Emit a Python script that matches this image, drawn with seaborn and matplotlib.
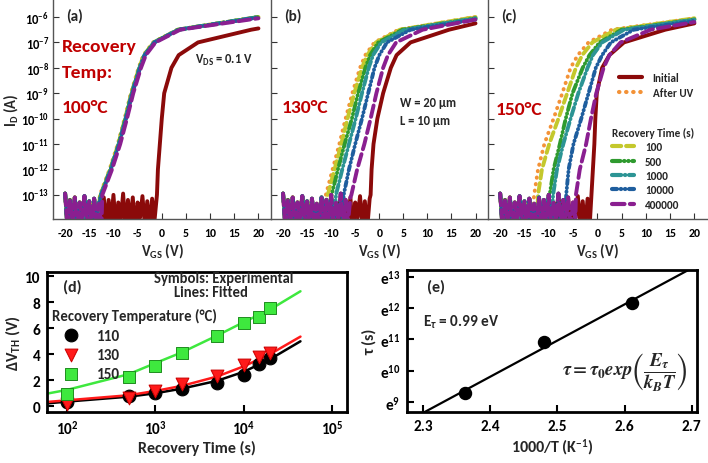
#!/usr/bin/env python3
"""Recovery of UV-shifted transfer curves and the recovery time constant."""

import matplotlib.pyplot as plt
import numpy as np
import seaborn as sns
from matplotlib.lines import Line2D
from matplotlib.ticker import NullLocator

sns.set_theme(style="white")
plt.rcParams["font.family"] = ["Carlito", "DejaVu Sans"]
plt.rcParams["font.weight"] = "bold"
plt.rcParams["axes.labelweight"] = "bold"
plt.rcParams["axes.unicode_minus"] = False
plt.rcParams["mathtext.fontset"] = "custom"
plt.rcParams["mathtext.rm"] = "Carlito:bold"
plt.rcParams["mathtext.bf"] = "Carlito:bold"
plt.rcParams["mathtext.it"] = "Carlito:italic:bold"

# ---- (a)-(c): transfer curves ------------------------------------------
CURVE_NAMES = ["Initial", "After UV", "100", "500", "1000", "10000", "400000"]
LOG_LEVELS = [-13.0, -12.0, -11.0, -10.0, -9.0, -8.0, -7.5, -7.0, -6.5]

VGS_100C = {
    "Initial": [-1.0, -0.8, -0.4, 0.0, 0.5, 2.0, 3.5, 7.5, 18.5],
    "After UV": [-12.8, -10.8, -9.1, -7.7, -6.4, -4.8, -3.8, -1.8, 3.2],
    "100": [-12.7, -10.7, -9.0, -7.6, -6.3, -4.7, -3.7, -1.7, 3.3],
    "500": [-12.6, -10.6, -8.9, -7.5, -6.2, -4.6, -3.6, -1.6, 3.4],
    "1000": [-12.6, -10.6, -8.9, -7.5, -6.2, -4.6, -3.6, -1.6, 3.4],
    "10000": [-12.5, -10.5, -8.8, -7.4, -6.1, -4.5, -3.5, -1.5, 3.5],
    "400000": [-12.3, -10.3, -8.6, -7.2, -5.9, -4.3, -3.3, -1.3, 3.8],
}
VGS_130C = {
    "Initial": [-1.8, -1.6, -1.2, -0.4, 0.8, 2.4, 3.6, 6.5, 14.5],
    "After UV": [-11.1, -9.7, -8.3, -7.0, -5.6, -4.0, -2.9, -1.0, 4.0],
    "100": [-10.7, -9.3, -7.9, -6.6, -5.2, -3.6, -2.5, -0.7, 4.3],
    "500": [-9.9, -8.6, -7.2, -5.7, -4.4, -2.9, -1.9, -0.2, 4.8],
    "1000": [-9.0, -7.7, -6.3, -4.9, -3.6, -2.2, -1.3, 0.4, 5.3],
    "10000": [-7.4, -6.3, -5.0, -3.6, -2.3, -1.0, 0.0, 1.6, 6.5],
    "400000": [-5.8, -4.6, -3.1, -1.8, -0.6, 0.8, 1.8, 3.5, 9.0],
}
VGS_150C = {
    "Initial": [-1.2, -0.9, -0.6, -0.4, -0.1, 1.0, 2.5, 5.5, 14.0],
    "After UV": [-13.0, -12.2, -10.9, -9.0, -7.2, -5.5, -4.0, -1.8, 3.0],
    "100": [-12.2, -11.4, -9.9, -8.0, -6.2, -4.4, -3.1, -1.0, 3.8],
    "500": [-9.8, -9.0, -7.7, -6.5, -5.1, -3.0, -1.6, 0.5, 5.0],
    "1000": [-9.1, -8.3, -7.0, -5.5, -3.9, -2.0, -0.9, 1.0, 5.5],
    "10000": [-6.4, -5.9, -4.9, -3.3, -1.8, -0.3, 1.0, 2.8, 7.5],
    "400000": [-4.4, -3.6, -2.3, -1.3, -0.2, 1.3, 2.5, 4.8, 11.0],
}
# log10(I_D) at V_GS = 20 V, same order as CURVE_NAMES
END_100C = [-6.45, -6.0, -6.0, -6.0, -6.0, -6.02, -6.05]
END_130C = [-6.25, -6.0, -6.0, -6.05, -6.05, -6.1, -6.1]
END_150C = [-6.25, -6.05, -6.05, -6.1, -6.1, -6.15, -6.2]

# off-current floor (log10 I_D), read every FLOOR_STEP volts from -20 V
FLOOR_STEP = 0.5
FLOOR_LOG_I = [-12.95, -14.3, -13.2, -14.1, -13.1, -14.4, -13.3, -13.9,
               -13.05, -14.2, -13.25, -14.3, -13.15, -14.0, -13.35, -14.4,
               -13.1, -14.2, -13.2, -14.1, -13.0, -14.3, -13.3, -14.0]

CURVE_COLORS = ["#8b0a0a", "#f39237", "#c4c82c", "#2f9a2f",
                "#2c9494", "#1f5e9e", "#8a1f90"]
CURVE_STYLES = ["-", (0, (0.1, 1.6)), (0, (2.2, 1.2)),
                (0, (2.0, 0.9, 0.1, 0.9, 0.1, 0.9)), (0, (2.2, 0.9, 0.1, 0.9)),
                (0, (1.2, 0.9, 0.1, 0.9, 0.1, 0.9)), (0, (3.0, 1.3))]

# ---- (d): threshold shift vs recovery time -------------------------------
EXP_TIME = [100, 500, 1000, 2000, 5000, 10000, 15000, 20000]
DVTH_110 = [0.3, 0.8, 0.98, 1.3, 1.75, 2.4, 3.2, 3.7]
DVTH_130 = [0.13, 0.65, 1.15, 1.68, 2.3, 3.15, 3.75, 4.05]
DVTH_150 = [0.95, 2.25, 3.1, 4.1, 5.35, 6.35, 6.85, 7.55]
FIT_TIME = [59, 100, 500, 1000, 2000, 5000, 10000, 20000, 44000]
FIT_110 = [0.2, 0.34, 0.72, 0.98, 1.34, 1.94, 2.63, 3.61, 4.98]
FIT_130 = [0.31, 0.44, 0.83, 1.16, 1.55, 2.27, 3.05, 4.0, 5.34]
FIT_150 = [0.95, 1.24, 2.45, 3.3, 4.13, 5.42, 6.45, 7.43, 8.83]

# ---- (e): Arrhenius plot --------------------------------------------------
INV_T = [2.363, 2.480, 2.611]
LN_TAU = [9.29, 10.90, 12.16]


def curve_trace(vgs_levels, end_log_i):
    """Join the noisy floor, the read-off points and the 20 V end point."""
    onset = vgs_levels[0]
    floor_v = np.arange(-20.0, onset, FLOOR_STEP)
    floor_i = np.resize(FLOOR_LOG_I, floor_v.size)
    vgs = np.concatenate([floor_v, vgs_levels, [20.0]])
    log_i = np.concatenate([floor_i, LOG_LEVELS, [end_log_i]])
    return vgs, log_i


def transfer_panel(ax, vgs_by_curve, ends, tag, first):
    for name, end, color, style in zip(CURVE_NAMES, ends, CURVE_COLORS, CURVE_STYLES):
        vgs, log_i = curve_trace(vgs_by_curve[name], end)
        sns.lineplot(x=vgs, y=log_i, ax=ax, color=color, linewidth=2.8,
                     sort=False, estimator=None, linestyle=style,
                     dash_capstyle="round", solid_joinstyle="round")
    ax.set_xlim(-22.5, 22.6)
    ax.set_ylim(-13.95, -5.33)
    ax.set_xticks(range(-20, 21, 5))
    ax.set_yticks(range(-13, -5))
    ax.set_yticklabels([f"$10^{{{k}}}$" for k in range(-13, -5)])
    ax.tick_params(axis="both", direction="in", length=4, width=0.8,
                   bottom=True, left=True, labelsize=8.5, pad=6,
                   colors="#333333", labelcolor="black")
    ax.tick_params(axis="y", labelleft=first, pad=3, labelsize=9)
    for side in ("top", "right"):
        ax.spines[side].set_visible(False)
    for side in ("left", "bottom"):
        ax.spines[side].set_color("#555555")
        ax.spines[side].set_linewidth(1.0)
    ax.set_xlabel(r"V$_{\mathbf{GS}}$ (V)", fontsize=10.5, labelpad=1)
    ax.set_ylabel(r"I$_{\mathbf{D}}$ (A)" if first else "", fontsize=10.5,
                  labelpad=1)
    ax.text(0.06, 0.93, tag, transform=ax.transAxes, fontsize=11,
            va="center", ha="left")


def main():
    fig = plt.figure(figsize=(7.08, 4.64), dpi=100)
    ax_a = fig.add_axes([0.0749, 0.5259, 0.3079, 0.4720])
    ax_b = fig.add_axes([0.3828, 0.5259, 0.3065, 0.4720])
    ax_c = fig.add_axes([0.6893, 0.5259, 0.3093, 0.4720])
    ax_d = fig.add_axes([0.0664, 0.1099, 0.4237, 0.3017])
    ax_e = fig.add_axes([0.5749, 0.1099, 0.4096, 0.3060])

    transfer_panel(ax_a, VGS_100C, END_100C, "(a)", True)
    transfer_panel(ax_b, VGS_130C, END_130C, "(b)", False)
    transfer_panel(ax_c, VGS_150C, END_150C, "(c)", False)

    red = "#c00000"
    for label, y in (("Recovery", 0.79), ("Temp:", 0.672), ("100°C", 0.511)):
        ax_a.text(0.041, y, label, transform=ax_a.transAxes, color=red,
                  fontsize=14, va="center")
    ax_b.text(0.05, 0.511, "130°C", transform=ax_b.transAxes, color=red,
              fontsize=14, va="center")
    ax_c.text(0.037, 0.502, "150°C", transform=ax_c.transAxes, color=red,
              fontsize=14, va="center")
    ax_a.text(0.651, 0.73, r"V$_{\mathbf{DS}}$ = 0.1 V", transform=ax_a.transAxes,
              fontsize=9, va="center")
    ax_b.text(0.594, 0.534, "W = 20 µm", transform=ax_b.transAxes,
              fontsize=9, va="center")
    ax_b.text(0.594, 0.452, "L = 10 µm", transform=ax_b.transAxes,
              fontsize=9, va="center")

    handles = [Line2D([], [], color=c, linewidth=3, linestyle=s,
                      dash_capstyle="round")
               for c, s in zip(CURVE_COLORS, CURVE_STYLES)]
    leg1 = ax_c.legend(handles[:2], CURVE_NAMES[:2], loc="upper left",
                       bbox_to_anchor=(0.6, 0.67), frameon=False, fontsize=8,
                       handlelength=2.0, handletextpad=1.0, labelspacing=0.3,
                       borderaxespad=0, borderpad=0)
    ax_c.add_artist(leg1)
    ax_c.legend(handles[2:], CURVE_NAMES[2:], loc="upper left",
                bbox_to_anchor=(0.565, 0.42), frameon=False, fontsize=8,
                title="Recovery Time (s)",
                title_fontproperties={"weight": "bold", "size": 8},
                alignment="left", handlelength=2.0, handletextpad=1.0,
                labelspacing=0.3, borderaxespad=0, borderpad=0)

    # (d)
    for fit, color in ((FIT_110, "black"), (FIT_130, "#ff1a1a"), (FIT_150, "#3ee83e")):
        sns.lineplot(x=FIT_TIME, y=fit, ax=ax_d, color=color, linewidth=1.8,
                     sort=False, estimator=None)
    sns.scatterplot(x=EXP_TIME, y=DVTH_110, ax=ax_d, marker="o", s=85,
                    color="black", edgecolor="black", label="110", zorder=3)
    sns.scatterplot(x=EXP_TIME, y=DVTH_130, ax=ax_d, marker="v", s=85,
                    color="#ff1a1a", edgecolor="#cc0000", label="130", zorder=3)
    sns.scatterplot(x=EXP_TIME, y=DVTH_150, ax=ax_d, marker="s", s=75,
                    color="#3ee83e", edgecolor="#1e8c1e", label="150", zorder=3)
    ax_d.set_xscale("log")
    ax_d.set_xlim(59.4, 1.48e5)
    ax_d.set_ylim(-0.46, 10.31)
    ax_d.set_xticks([1e2, 1e3, 1e4, 1e5])
    ax_d.xaxis.set_minor_locator(NullLocator())
    ax_d.set_yticks(range(0, 11, 2))
    ax_d.set_xlabel("Recovery Time (s)", fontsize=11.5, labelpad=2)
    ax_d.set_ylabel(r"ΔV$_{\mathbf{TH}}$ (V)", fontsize=11.5, labelpad=2)
    ax_d.text(0.053, 0.9, "(d)", transform=ax_d.transAxes, fontsize=11.5,
              va="center")
    ax_d.text(0.59, 0.957, "Symbols: Experimental", transform=ax_d.transAxes,
              fontsize=10.5, ha="center", va="center")
    ax_d.text(0.423, 0.857, "Lines: Fitted", transform=ax_d.transAxes,
              fontsize=10.5, ha="left", va="center")
    h, lab = ax_d.get_legend_handles_labels()
    ax_d.legend(h, lab, loc="upper left", bbox_to_anchor=(0.015, 0.74),
                frameon=False, fontsize=11, title="Recovery Temperature (°C)",
                title_fontproperties={"weight": "bold", "size": 10.5},
                alignment="left", handlelength=2.6, handletextpad=0.35,
                labelspacing=0.33, borderaxespad=0, borderpad=0)

    # (e)
    ax_e.set_xlim(2.276, 2.708)
    ax_e.set_ylim(8.68, 13.21)
    sns.regplot(x=INV_T, y=LN_TAU, ax=ax_e, ci=None, truncate=False,
                color="black", scatter_kws={"s": 75, "alpha": 1},
                line_kws={"linewidth": 1.6})
    ax_e.set_xlim(2.276, 2.708)
    ax_e.set_ylim(8.68, 13.21)
    ax_e.set_xticks([2.3, 2.4, 2.5, 2.6, 2.7])
    ax_e.set_yticks(range(9, 14))
    ax_e.set_yticklabels([f"e$^{{{k}}}$" for k in range(9, 14)])
    ax_e.set_xlabel("1000/T (K$^{-1}$)", fontsize=11.5, labelpad=2)
    ax_e.set_ylabel("τ (s)", fontsize=11.5, labelpad=2)
    ax_e.text(0.069, 0.887, "(e)", transform=ax_e.transAxes, fontsize=11.5,
              va="center")
    ax_e.text(0.055, 0.641, "E$_τ$ = 0.99 eV", transform=ax_e.transAxes,
              fontsize=11, va="center")
    ax_e.text(0.966, 0.282, r"$\tau = \tau_0 exp\left(\dfrac{E_\tau}{k_B T}\right)$",
              transform=ax_e.transAxes, fontsize=13.5, ha="right", va="center",
              math_fontfamily="stix", fontweight="normal")

    for ax in (ax_d, ax_e):
        for side in ax.spines.values():
            side.set_visible(True)
            side.set_color("black")
            side.set_linewidth(2.0)
        ax.tick_params(axis="both", direction="in", length=5, width=1.5,
                       bottom=True, left=True, labelsize=11, pad=5,
                       colors="black")

    fig.savefig("out.png", dpi=100)


if __name__ == "__main__":
    main()
